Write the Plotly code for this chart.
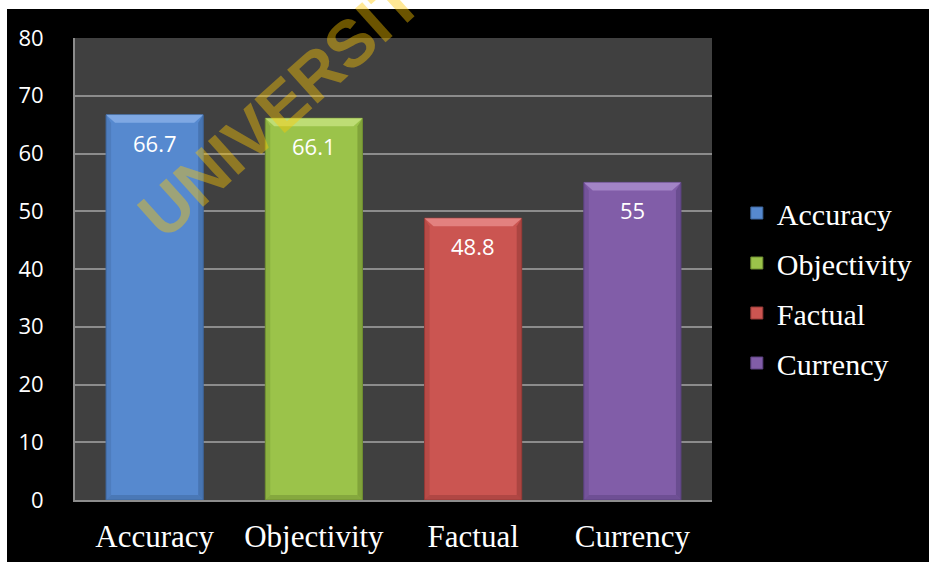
import plotly.graph_objects as go

# Survey results: percentage of respondents rating each criterion
categories = ["Accuracy", "Objectivity", "Factual", "Currency"]
values = [66.7, 66.1, 48.8, 55]
colors = ["#5689CF", "#9BC34A", "#CB5551", "#815DA8"]
light_colors = ["#86AEE6", "#C4E27C", "#E88A87", "#A88BCB"]
dark_colors = ["#3E679E", "#6F8E31", "#963A37", "#5C4280"]
y_ticks = [0, 10, 20, 30, 40, 50, 60, 70, 80]

# Figure geometry (pixels)
W, H = 929, 562
L, R, T, B = 75, 217, 38, 62
PW, PH = W - L - R, H - T - B

BAR_W = 0.61
Y_MAX = 80


def px_to_x(p):
    return p / (PW / len(categories))


def px_to_y(p):
    return p / (PH / Y_MAX)


fig = go.Figure()

for i, (cat, val, col, dcol) in enumerate(zip(categories, values, colors, dark_colors)):
    fig.add_trace(go.Bar(
        x=[cat], y=[val], name=cat,
        width=BAR_W,
        marker=dict(color=col, line=dict(color=dcol, width=1)),
        legendgroup=cat,
        hoverinfo="x+y",
    ))

# Bevel facets on each bar for the raised look
shapes = []
dx, dy = px_to_x(9), px_to_y(8)
sx, sy = px_to_x(5), px_to_y(5)
for i, (val, lc, dc) in enumerate(zip(values, light_colors, dark_colors)):
    x0, x1 = i - BAR_W / 2, i + BAR_W / 2
    # top facet
    shapes.append(dict(
        type="path", xref="x", yref="y", layer="above",
        path=f"M {x0},{val} L {x1},{val} L {x1 - dx},{val - dy} L {x0 + dx},{val - dy} Z",
        fillcolor=lc, line=dict(width=0), opacity=0.85,
    ))
    # left facet
    shapes.append(dict(
        type="path", xref="x", yref="y", layer="above",
        path=f"M {x0},{val} L {x0 + sx},{val - dy} L {x0 + sx},{sy} L {x0},0 Z",
        fillcolor=dc, line=dict(width=0), opacity=0.35,
    ))
    # right facet
    shapes.append(dict(
        type="path", xref="x", yref="y", layer="above",
        path=f"M {x1},{val} L {x1 - sx},{val - dy} L {x1 - sx},{sy} L {x1},0 Z",
        fillcolor=dc, line=dict(width=0), opacity=0.6,
    ))
    # bottom facet
    shapes.append(dict(
        type="path", xref="x", yref="y", layer="above",
        path=f"M {x0},0 L {x1},0 L {x1 - sx},{sy} L {x0 + sx},{sy} Z",
        fillcolor=dc, line=dict(width=0), opacity=0.5,
    ))

# White page margin on the left and top edges
shapes.append(dict(type="rect", xref="paper", yref="paper",
                   x0=-L / PW - 0.01, x1=(7 - L) / PW, y0=-B / PH - 0.01, y1=(H - B) / PH + 0.01,
                   fillcolor="white", line=dict(width=0), layer="above"))
shapes.append(dict(type="rect", xref="paper", yref="paper",
                   x0=-L / PW - 0.01, x1=(W - L) / PW + 0.01, y0=(PH + T - 9) / PH, y1=(H - B) / PH + 0.01,
                   fillcolor="white", line=dict(width=0), layer="above"))

annotations = []
for cat, val in zip(categories, values):
    annotations.append(dict(
        x=cat, y=val, xref="x", yref="y",
        text=f"{val:g}", showarrow=False,
        yanchor="top", yshift=-11,
        font=dict(family="Open Sans", size=22, color="white"),
    ))

# Watermark
annotations.append(dict(
    x=(296 - L) / PW, y=(PH + T - 92) / PH, xref="paper", yref="paper",
    xanchor="center", yanchor="middle",
    text="<b>UNIVERSITY</b>", showarrow=False, textangle=-42,
    font=dict(family="Liberation Sans", size=66, color="rgba(255,200,0,0.42)"),
))

fig.update_layout(
    width=W, height=H,
    margin=dict(l=L, r=R, t=T, b=B, pad=0, autoexpand=False),
    paper_bgcolor="black",
    plot_bgcolor="#404040",
    barmode="overlay",
    showlegend=True,
    legend=dict(
        x=1.039, y=(PH + T - 288) / PH, xanchor="left", yanchor="middle",
        font=dict(family="Liberation Serif", size=30, color="white"),
        bgcolor="rgba(0,0,0,0)", traceorder="grouped", tracegroupgap=8,
    ),
    xaxis=dict(
        type="category", categoryarray=categories, automargin=False,
        showgrid=False, showline=True, linecolor="#8C8C8C", linewidth=2,
        ticks="", ticklabelstandoff=8,
        tickfont=dict(family="Liberation Serif", size=31, color="white"),
    ),
    yaxis=dict(
        range=[0, Y_MAX], tickvals=y_ticks, automargin=False,
        showgrid=True, gridcolor="#8C8C8C", gridwidth=2,
        showline=True, linecolor="#8C8C8C", linewidth=2,
        ticks="", ticklabelstandoff=25, zeroline=False,
        tickfont=dict(family="Open Sans", size=22, color="white"),
    ),
    shapes=shapes,
    annotations=annotations,
)

fig.write_html("out.html")
